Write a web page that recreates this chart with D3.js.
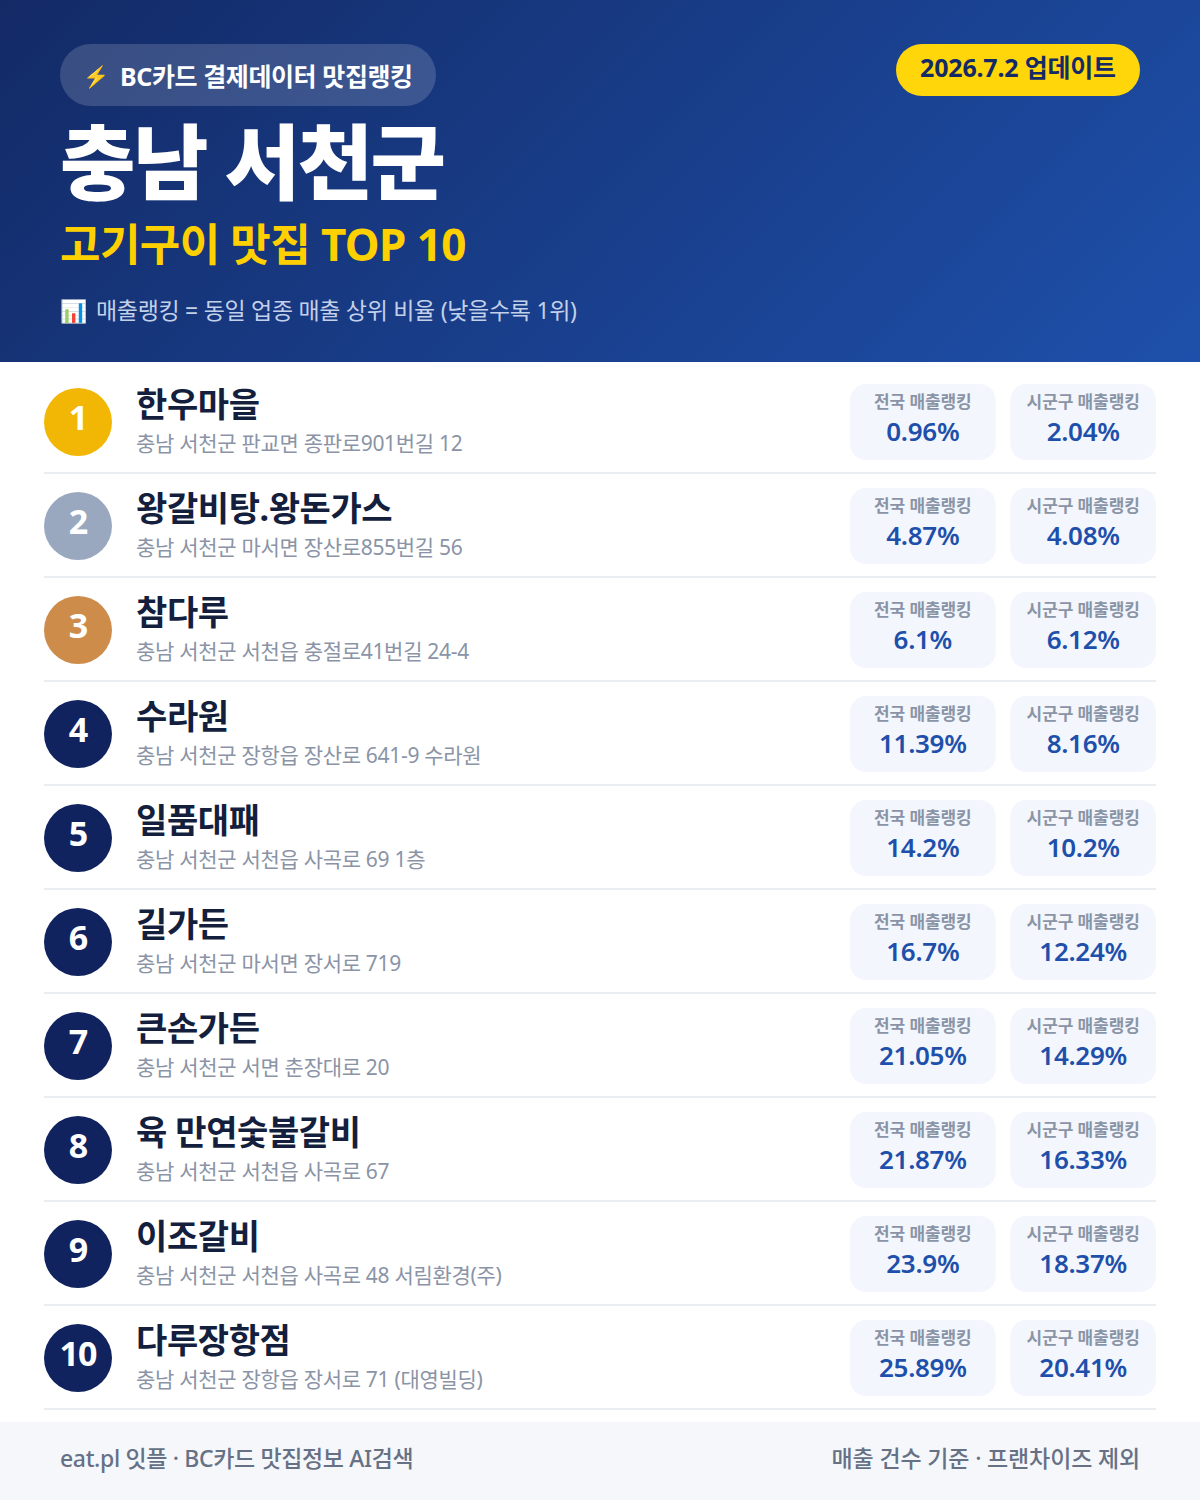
<!DOCTYPE html>
<html lang="ko"><head><meta charset="utf-8">
<script src="https://cdn.jsdelivr.net/npm/d3@7"></script>
<style>html,body{margin:0;padding:0;background:#fff}svg{display:block}text{font-family:"Noto Sans","Noto Sans CJK KR",sans-serif}</style>
</head><body><div id="c"></div>
<script>
const ranks=[1,2,3,4,5,6,7,8,9,10];
const names=["한우마을","왕갈비탕.왕돈가스","참다루","수라원","일품대패","길가든","큰손가든","육 만연숯불갈비","이조갈비","다루장항점"];
const addresses=["충남 서천군 판교면 종판로901번길 12","충남 서천군 마서면 장산로855번길 56","충남 서천군 서천읍 충절로41번길 24-4","충남 서천군 장항읍 장산로 641-9 수라원","충남 서천군 서천읍 사곡로 69 1층","충남 서천군 마서면 장서로 719","충남 서천군 서면 춘장대로 20","충남 서천군 서천읍 사곡로 67","충남 서천군 서천읍 사곡로 48 서림환경(주)","충남 서천군 장항읍 장서로 71 (대영빌딩)"];
const national=["0.96%","4.87%","6.1%","11.39%","14.2%","16.7%","21.05%","21.87%","23.9%","25.89%"];
const district=["2.04%","4.08%","6.12%","8.16%","10.2%","12.24%","14.29%","16.33%","18.37%","20.41%"];
const metricLabels=["전국 매출랭킹","시군구 매출랭킹"];
const W=1200,H=1500;
const svg=d3.select("#c").append("svg").attr("width",W).attr("height",H).attr("viewBox",`0 0 ${W} ${H}`);
const defs=svg.append("defs");
const g=defs.append("linearGradient").attr("id","hd").attr("gradientUnits","userSpaceOnUse").attr("x1",210).attr("y1",-209).attr("x2",990).attr("y2",571);
g.append("stop").attr("offset",0).attr("stop-color","#132a66");
g.append("stop").attr("offset",1).attr("stop-color","#1e50ab");
svg.append("rect").attr("width",W).attr("height",362).attr("fill","url(#hd)");
const T=(p,x,y,s,size,weight,fill,anchor,ls)=>p.append("text").attr("x",x).attr("y",y).attr("font-size",size).attr("font-weight",weight).attr("fill",fill).attr("text-anchor",anchor||"start").attr("letter-spacing",ls||0).text(s);
svg.append("rect").attr("x",60).attr("y",44).attr("width",376).attr("height",62).attr("rx",31).attr("fill","#ffffff").attr("fill-opacity",.16);
T(svg,83,84,"⚡",21,400,"#ffc83d").style("font-family","'Noto Color Emoji','Noto Sans CJK KR'");
T(svg,120,86,"BC카드 결제데이터 맛집랭킹",25,700,"#fff","start",-.4);
svg.append("rect").attr("x",896).attr("y",44).attr("width",244).attr("height",52).attr("rx",26).attr("fill","#ffd60a");
T(svg,1018,77,"2026.7.2 업데이트",25,700,"#132a66","middle",-.2);
T(svg,60,193,"충남 서천군",82,900,"#fff","start",-2.5);
T(svg,60,261,"고기구이 맛집 TOP 10",44,700,"#ffd000","start",-.6);
T(svg,60,319,"📊",22,400,"#fff").style("font-family","'Noto Color Emoji','Noto Sans CJK KR'");
T(svg,96,319,"매출랭킹 = 동일 업종 매출 상위 비율 (낮을수록 1위)",23,400,"#c3d0ea","start",-.3);
const y=d3.scaleBand().domain(ranks).range([370,1410]).paddingInner(0).paddingOuter(0);
const rankColor=d3.scaleOrdinal().domain([1,2,3]).range(["#f2b705","#9aa8bf","#cd8c4a"]).unknown("#10235f");
const pillX=d3.scaleBand().domain(metricLabels).range([850,1156]).paddingInner(14/153).paddingOuter(0);
const rows=svg.selectAll("g.row").data(ranks).join("g").attr("class","row").attr("transform",d=>`translate(0,${y(d)})`);
rows.append("line").attr("x1",44).attr("x2",1156).attr("y1",103).attr("y2",103).attr("stroke","#eaedf1").attr("stroke-width",2);
rows.append("circle").attr("cx",78).attr("cy",52).attr("r",34).attr("fill",d=>rankColor(d));
rows.append("text").attr("x",78).attr("y",60).attr("text-anchor","middle").attr("font-size",34).attr("font-weight",700).attr("fill","#fff").attr("letter-spacing",-1).text(d=>d);
rows.append("text").attr("x",136).attr("y",47).attr("font-size",34).attr("font-weight",700).attr("fill","#141f3d").attr("letter-spacing",-.4).text((d,i)=>names[i]);
rows.append("text").attr("x",136).attr("y",81).attr("font-size",21).attr("font-weight",400).attr("fill","#8a94a6").attr("letter-spacing",-.3).text((d,i)=>addresses[i]);
metricLabels.forEach((lab,k)=>{
  const vals=k===0?national:district;
  const cx=pillX(lab)+pillX.bandwidth()/2;
  rows.append("rect").attr("x",pillX(lab)).attr("y",14).attr("width",pillX.bandwidth()).attr("height",76).attr("rx",16).attr("fill","#f3f6fc");
  rows.append("text").attr("x",cx).attr("y",37.5).attr("text-anchor","middle").attr("font-size",17).attr("font-weight",600).attr("fill","#8a94a6").attr("letter-spacing",-.1).text(lab);
  rows.append("text").attr("x",cx).attr("y",71).attr("text-anchor","middle").attr("font-size",26).attr("font-weight",600).attr("fill","#1e50ab").attr("letter-spacing",-.3).text((d,i)=>vals[i]);
});
svg.append("rect").attr("y",1422).attr("width",W).attr("height",78).attr("fill","#f5f7fb");
T(svg,60,1467,"eat.pl 잇플 · BC카드 맛집정보 AI검색",23,500,"#667185","start",-.35);
T(svg,1140,1467,"매출 건수 기준 · 프랜차이즈 제외",23,500,"#667185","end",-.15);
</script></body></html>
